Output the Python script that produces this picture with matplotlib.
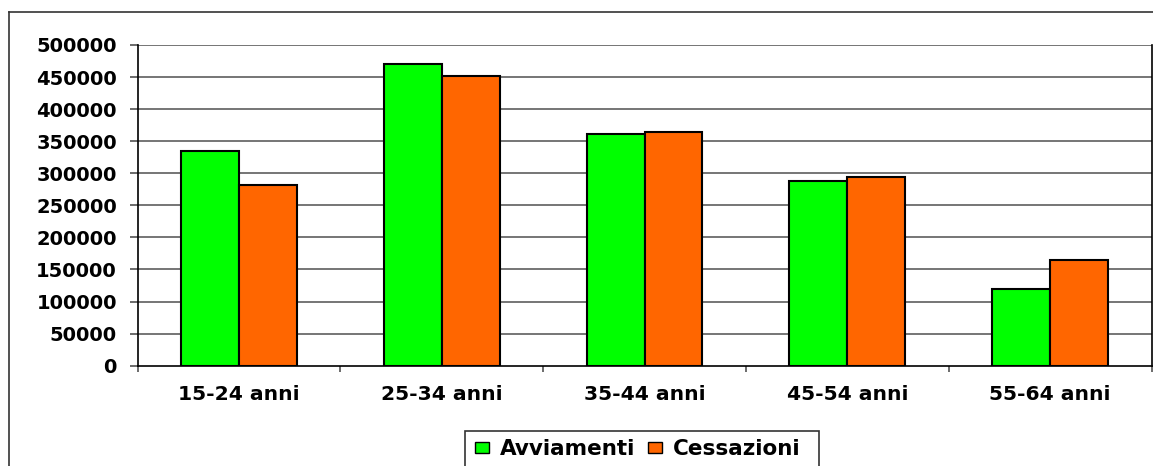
import matplotlib
matplotlib.use("Agg")
import matplotlib.pyplot as plt
from matplotlib.patches import Rectangle, Patch
from matplotlib.lines import Line2D
import numpy as np

# Data
categories = ["15-24 anni", "25-34 anni", "35-44 anni", "45-54 anni", "55-64 anni"]
avviamenti = [335200, 470400, 361700, 288400, 119100]
cessazioni = [282200, 451700, 363900, 293700, 164300]
series_labels = ["Avviamenti", "Cessazioni"]
y_ticks = list(range(0, 500001, 50000))

W, H = 1153, 466
fig = plt.figure(figsize=(W / 100, H / 100), dpi=100)
fig.patch.set_facecolor("white")

# plot area in pixel coordinates
left, right, top, bottom = 137.5, 1151.5, 45.0, 365.7
ax = fig.add_axes([left / W, 1 - bottom / H, (right - left) / W, (bottom - top) / H])

font = {"family": "DejaVu Sans", "weight": "bold"}
grid_color = "#6a6a6a"

x = np.arange(len(categories))
bw = 0.2857
ax.bar(x - bw / 2, avviamenti, width=bw, color="#00FF00", edgecolor="black",
       linewidth=1.5, zorder=3)
ax.bar(x + bw / 2, cessazioni, width=bw, color="#FF6600", edgecolor="black",
       linewidth=1.5, zorder=3)

ax.set_xlim(-0.5, len(categories) - 0.5)
ax.set_ylim(0, 500000)

# horizontal gridlines
for v in y_ticks[1:]:
    ax.axhline(v, color=grid_color, linewidth=1.3, zorder=1)

ax.set_yticks(y_ticks)
ax.set_yticklabels([str(v) for v in y_ticks], fontdict=font, fontsize=14)
ax.tick_params(axis="y", length=5.8, width=1.1, color="#444444", pad=9.0)

ax.set_xticks(x)
ax.set_xticklabels(categories, fontdict=font, fontsize=14.6)
ax.set_xticks(np.arange(-0.5, len(categories)), minor=True)
ax.tick_params(axis="x", which="major", length=0, pad=14)
ax.tick_params(axis="x", which="minor", length=4.5, width=1.1, color="#444444")

for s in ("left", "bottom", "right"):
    ax.spines[s].set_color("black")
    ax.spines[s].set_linewidth(1.2)
ax.spines["top"].set_visible(False)

# outer chart border
fig.add_artist(Line2D([9 / W, 9 / W], [0, 1 - 12 / H], transform=fig.transFigure,
                      color="#333333", linewidth=1.2))
fig.add_artist(Line2D([9 / W, 1], [1 - 12 / H, 1 - 12 / H], transform=fig.transFigure,
                      color="#333333", linewidth=1.2))

# legend box
fig.add_artist(Rectangle((465 / W, 1 - 490 / H), (819 - 465) / W, (490 - 431) / H,
                         transform=fig.transFigure, facecolor="white",
                         edgecolor="#333333", linewidth=1.2))
handles = [Patch(facecolor="#00FF00", edgecolor="black", linewidth=1.0),
           Patch(facecolor="#FF6600", edgecolor="black", linewidth=1.0)]
fig.legend(handles, series_labels, loc="center left",
           bbox_to_anchor=(475 / W, 1 - 449 / H), ncol=2, frameon=False,
           prop={"family": "DejaVu Sans", "weight": "bold", "size": 15.5},
           handlelength=0.65, handleheight=0.45, handletextpad=0.5,
           columnspacing=0.6, borderaxespad=0, borderpad=0)

fig.savefig("out.png", dpi=100, facecolor="white")
